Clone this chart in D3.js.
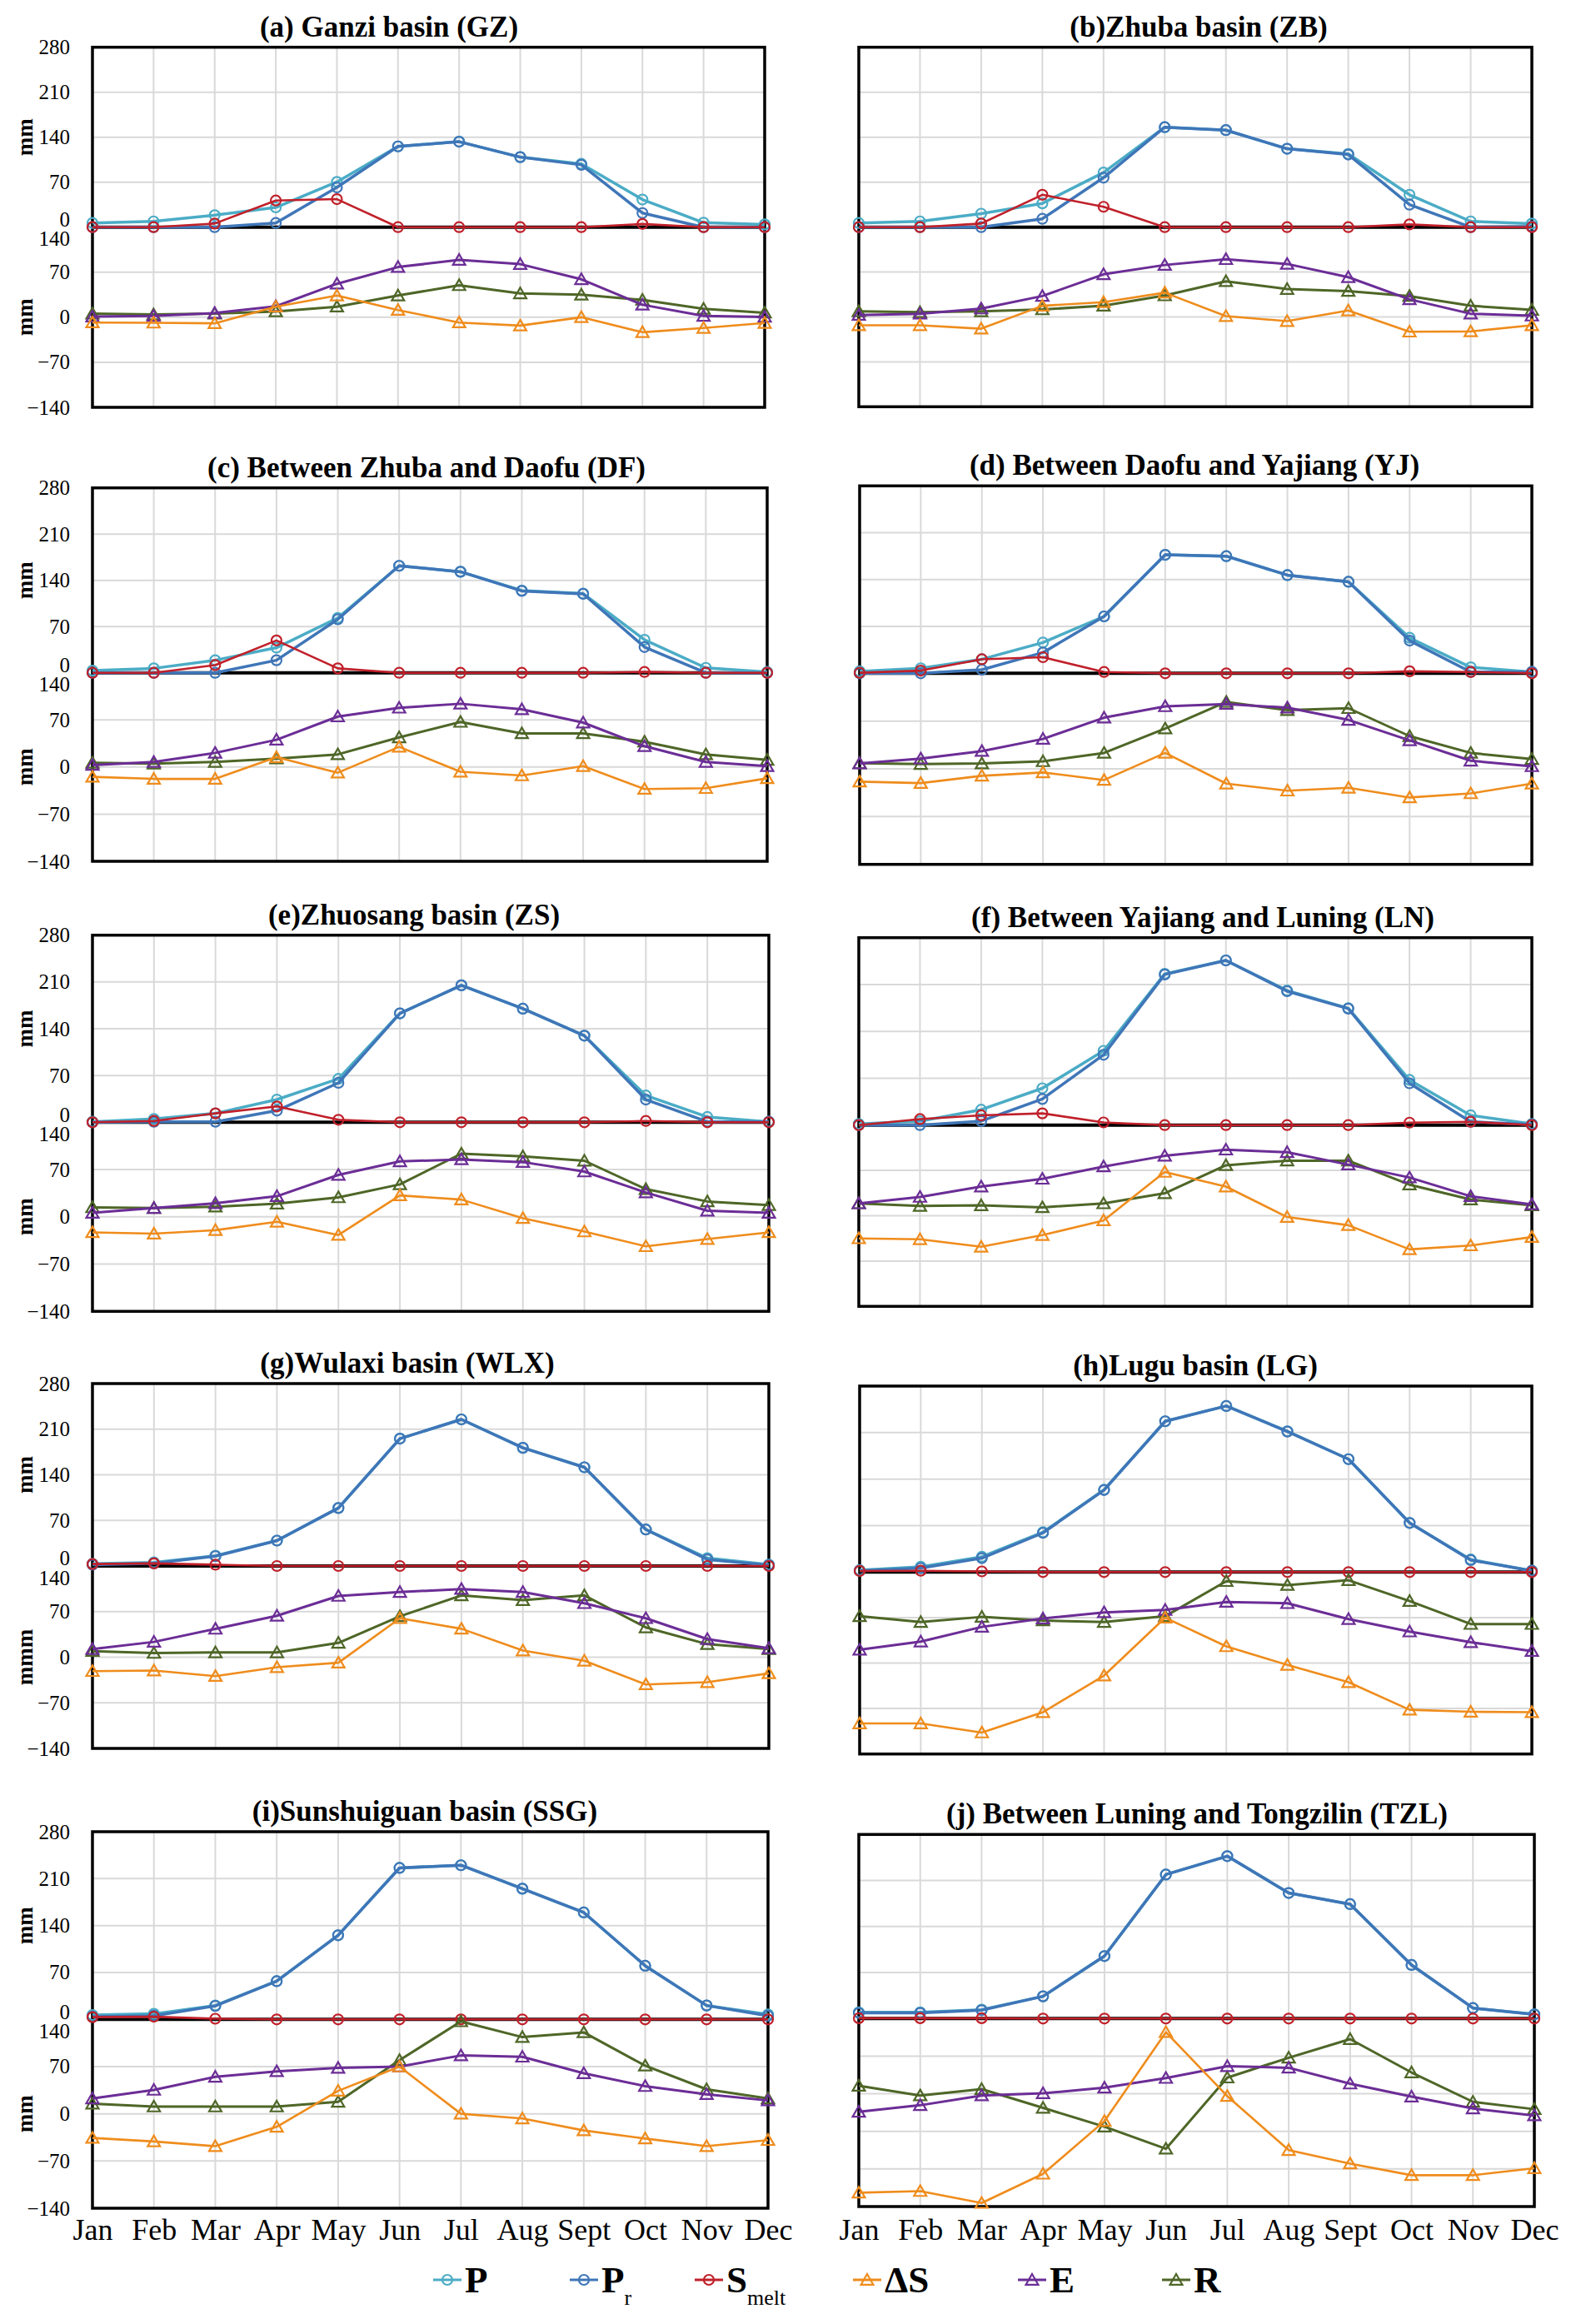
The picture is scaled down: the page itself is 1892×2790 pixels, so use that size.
<!DOCTYPE html>
<html><head><meta charset="utf-8">
<script src="https://cdn.jsdelivr.net/npm/d3@7"></script>
<style>
body{margin:0;background:#fff}
svg{display:block}
text{font-family:"Liberation Serif","Times New Roman",serif;fill:#000}
</style>
</head><body>
<svg id="chart" width="1892" height="2790"></svg>
<script>
// ---------- DATA ----------
const months = ["Jan","Feb","Mar","Apr","May","Jun","Jul","Aug","Sept","Oct","Nov","Dec"];
const upperTicks = [0,70,140,210,280];
const lowerTicks = [-140,-70,0,70,140];
const lowerTicksTZL = [-112,-56,0,56,112,168];
const titles = ["(a) Ganzi basin (GZ)","(b)Zhuba basin (ZB)","(c) Between Zhuba and Daofu (DF)","(d) Between Daofu and Yajiang (YJ)",
  "(e)Zhuosang basin (ZS)","(f) Between Yajiang and Luning (LN)","(g)Wulaxi basin (WLX)","(h)Lugu basin (LG)",
  "(i)Sunshuiguan basin (SSG)","(j) Between Luning and Tongzilin (TZL)"];
const upperYLabels = ["mm","","mm","","mm","","mm","","mm",""];
const lowerYLabels = ["mm","","mm","","mm","","mmm","","mm",""];

// (a) GZ
const gzP  = [6.5, 9, 18.6, 30.7, 70.4, 125.7, 133, 109, 98.5, 43, 7, 4.3];
const gzPr = [0, 0, 0, 6.5, 61.8, 125.7, 133, 109, 97, 22, 0, 0];
const gzSm = [0, 0, 5.6, 41.5, 43.6, 0, 0, 0, 0, 5, 0, 0];
const gzDS = [-8.2, -8.6, -9.5, 16.4, 33.7, 11.2, -8.2, -13, 0, -23.3, -16.8, -9];
const gzE  = [1, 2, 6.5, 17, 52, 78, 89, 82.5, 59, 19.4, 2, 0.5];
const gzR  = [5.6, 4.3, 5.6, 9, 16.4, 33.7, 49.7, 37, 35, 27, 13, 7];
// (b) ZB
const zbP  = [6.5, 9, 21, 37, 85, 155.6, 151, 122, 114, 50.4, 9, 5.6];
const zbPr = [0, 0, 0, 13, 77, 155.6, 151, 122, 113, 35, 0, 1];
const zbSm = [0, 0, 5.6, 50.4, 31.7, 0, 0, 0, 0, 4.3, 0, 0];
const zbDS = [-13, -13, -18.3, 17.4, 23, 37.8, 1.3, -6.5, 10, -23, -22.6, -13];
const zbE  = [3, 5, 13, 32.6, 66.5, 81, 90, 82.6, 62, 27.4, 5, 2];
const zbR  = [8.7, 7.4, 8.7, 11.7, 17.4, 33.5, 55.6, 43.5, 40.4, 32.6, 17.4, 11];
// (c) DF
const dfP  = [3.3, 6.7, 19, 38, 83, 162, 153, 124.5, 120, 50, 7.5, 1.3];
const dfPr = [0, 0, 0, 19, 81, 162, 153, 124, 119.5, 39, 0, 0];
const dfSm = [0, 0, 11.7, 49, 6.7, 0, 0, 0, 0, 1.3, 0, 0];
const dfDS = [-14.6, -17.6, -17.6, 14.6, -8.4, 30, -7, -12.5, 1.3, -32.6, -31.4, -16.7];
const dfE  = [3, 7.5, 21, 40.5, 75, 88, 94, 85.7, 66, 31, 7.5, 1.3];
const dfR  = [6.3, 5, 7.5, 12.5, 18.8, 44, 67, 50, 50, 37.6, 18.8, 10.5];
// (d) YJ
const yjP  = [2.9, 7.5, 21, 46, 85, 177, 175, 146.7, 136.7, 53, 9, 2];
const yjPr = [0, 0, 5.4, 31, 85, 177, 175, 146.7, 136.7, 48.8, 2, 2];
const yjSm = [0.8, 4, 21, 24, 2, 0, 0, 0, 0, 3, 2, 0];
const yjDS = [-18.8, -20.9, -10.2, -5.3, -16.4, 23.3, -21.7, -32, -27.8, -42, -36, -21.7];
const yjE  = [7.8, 15, 26, 43.8, 75, 91.6, 95, 89.6, 71.6, 41.7, 11.9, 3.7];
const yjR  = [8.2, 7, 7.8, 11, 23.3, 59, 98, 86, 88.8, 47.9, 23.3, 14.3];
// (e) ZS
const zsP  = [0.8, 5, 13.3, 34, 65, 163, 205, 170, 129.6, 40, 7.9, 0.8];
const zsPr = [0, 0.8, 0.8, 17.4, 59, 163, 205, 170, 129.6, 34, 0.8, 0.8];
const zsSm = [0, 2, 13.3, 23.7, 3.7, 0, 0, 0, 0, 2, 0, 0];
const zsDS = [-23, -25, -19.8, -7.4, -27, 31.7, 25.5, -2, -21.8, -43.7, -33, -23];
const zsE  = [5.8, 13, 20, 30.5, 62, 82, 85, 81, 67, 36, 9, 5.8];
const zsR  = [14, 13, 15, 19.4, 28.8, 48, 93.5, 89.4, 83, 41, 22.7, 17.3];
// (f) LN
const lnP  = [1.7, 5.8, 23, 55, 111, 226, 246, 201, 174.6, 67.5, 14.6, 1.7];
const lnPr = [0, 0, 6, 39, 105, 225, 246, 200, 174, 62.5, 5, 0.8];
const lnSm = [0, 9, 14.6, 17.5, 4, 0, 0, 0, 0, 3.7, 5, 0];
const lnDS = [-35, -36.4, -48, -30, -7.3, 67.6, 45, -2, -14.6, -52, -46, -33];
const lnE  = [19, 29, 45, 57, 76, 92.5, 102, 98, 79, 59, 30, 17.5];
const lnR  = [19, 15, 16, 13, 19, 34.7, 78, 85, 85, 48, 25, 16];
// (g) WLX
const wlxP  = [3.4, 5.5, 15.8, 39, 89, 195.5, 225, 181.4, 151.5, 56, 12, 2.1];
const wlxPr = [2, 4.3, 15, 39, 89, 195.5, 225, 181.4, 151.5, 56, 10, 1.3];
const wlxSm = [3, 4, 2, 0, 0, 0, 0, 0, 0, 0, 0, 0];
const wlxDS = [-21.4, -20.5, -29, -15.4, -8.5, 59.8, 43.6, 10.2, -5.5, -41.8, -38.4, -24.8];
const wlxE  = [12.4, 23.5, 43.5, 63.6, 94, 100, 104.6, 100, 82.8, 59.8, 27.8, 13.7];
const wlxR  = [9.4, 6.4, 7.3, 7.3, 22, 62.8, 94.8, 87.5, 94.8, 45.7, 20, 12.4];
// (h) LG
const lgP  = [3, 8, 23, 60, 124, 227, 250, 212, 170, 74, 19, 2];
const lgPr = [2, 6, 21, 59, 123.5, 227, 250, 211.5, 170, 74, 18, 2];
const lgSm = [1.7, 2, 1, 0, 0, 0, 0, 0, 0, 0, 0, 0];
const lgDS = [-93, -93, -107, -75.7, -19.3, 69.8, 25.7, -3, -29.5, -72, -75, -75.7];
const lgE  = [20.5, 33, 55.6, 68.5, 78, 81.7, 94, 92, 67.6, 48.4, 32, 18.4];
const lgR  = [72, 63, 71, 65.5, 63, 72, 126, 120, 127.5, 95.4, 60, 60];
// (i) SSG
const ssgP  = [6.6, 8.3, 20.7, 57, 125.5, 226, 230, 195, 159.5, 80, 20.7, 7.5];
const ssgPr = [4, 5.4, 20, 57, 125.5, 226, 230, 195, 159.5, 80, 20.7, 5.4];
const ssgSm = [3.3, 4, 1, 0, 0, 0, 0, 0, 0, 0, 0, 0];
const ssgDS = [-35.8, -41, -48, -19.4, 34, 70, 0, -7, -24.7, -36.7, -48, -39];
const ssgE  = [22.7, 35.4, 54.8, 63, 68, 70, 86.5, 84.5, 60, 41, 29, 19.8];
const ssgR  = [15, 10.7, 10.7, 10.7, 17.7, 79.5, 137, 113.7, 120.7, 71.3, 36.3, 22.7];
// (j) TZL
const tzlP  = [9.5, 9.5, 13.5, 33.8, 95, 219, 247, 191, 174, 81.5, 16, 6.3];
const tzlPr = [8.5, 8.5, 12.7, 33.8, 95, 219, 247, 191, 174, 81.5, 16, 6.3];
const tzlSm = [0.5, 0.5, 0.5, 0, 0, 0, 0, 0, 0, 0, 0, 0];
const tzlDS = [-91.4, -89, -106.7, -63.3, 15.3, 147.7, 52.5, -28, -48, -65.3, -65.3, -55];
const tzlE  = [29, 38.9, 53.4, 56.7, 65, 79.4, 97, 94.7, 71, 51.7, 34, 23.6];
const tzlR  = [67.8, 53.4, 62.9, 35, 7, -26, 80, 109.6, 137.3, 87.7, 44, 33];

// ---------- STYLE / LAYOUT ----------
const seriesKeys = ["P","Pr","Sm","DS","E","R"];
const colors = {P:"#4bacc6", Pr:"#3f76b8", Sm:"#c0202a", DS:"#ef8c1c", E:"#6b2d96", R:"#4e6627"};
const widths = {P:3.5, Pr:3.5, Sm:2.6, DS:2.6, E:3, R:3};
const markerType = {P:"circle", Pr:"circle", Sm:"circle", DS:"tri", E:"tri", R:"tri"};

const boxes = [
  {x0:111, x1:918, top:56.7, mid:272.7, bot:489, tx:467},
  {x0:1031,x1:1839,top:56.7, mid:272.7, bot:488.3, tx:1439},
  {x0:111, x1:921, top:585.7, mid:807.7, bot:1034, tx:512},
  {x0:1032,x1:1839,top:583.3, mid:808.3, bot:1037.7, tx:1434},
  {x0:111, x1:923, top:1122.7, mid:1347.3, bot:1574.3, tx:497},
  {x0:1031,x1:1839,top:1125.7, mid:1350.7, bot:1568.3, tx:1444},
  {x0:111, x1:923, top:1661, mid:1880, bot:2099, tx:489},
  {x0:1032,x1:1839,top:1664, mid:1887.3, bot:2105.7, tx:1435},
  {x0:111, x1:922, top:2199, mid:2424.3, bot:2651, tx:510},
  {x0:1031,x1:1842,top:2202.3, mid:2423.3, bot:2649, tx:1437}
];

const panelData = [
  {P:gzP, Pr:gzPr, Sm:gzSm, DS:gzDS, E:gzE, R:gzR, low:lowerTicks},
  {P:zbP, Pr:zbPr, Sm:zbSm, DS:zbDS, E:zbE, R:zbR, low:lowerTicks},
  {P:dfP, Pr:dfPr, Sm:dfSm, DS:dfDS, E:dfE, R:dfR, low:lowerTicks},
  {P:yjP, Pr:yjPr, Sm:yjSm, DS:yjDS, E:yjE, R:yjR, low:lowerTicks},
  {P:zsP, Pr:zsPr, Sm:zsSm, DS:zsDS, E:zsE, R:zsR, low:lowerTicks},
  {P:lnP, Pr:lnPr, Sm:lnSm, DS:lnDS, E:lnE, R:lnR, low:lowerTicks},
  {P:wlxP, Pr:wlxPr, Sm:wlxSm, DS:wlxDS, E:wlxE, R:wlxR, low:lowerTicks},
  {P:lgP, Pr:lgPr, Sm:lgSm, DS:lgDS, E:lgE, R:lgR, low:lowerTicks},
  {P:ssgP, Pr:ssgPr, Sm:ssgSm, DS:ssgDS, E:ssgE, R:ssgR, low:lowerTicks},
  {P:tzlP, Pr:tzlPr, Sm:tzlSm, DS:tzlDS, E:tzlE, R:tzlR, low:lowerTicksTZL}
];

const svg = d3.select("#chart");
const triangle = d3.symbol().type(d3.symbolTriangle).size(95);

function drawMarker(g, type, x, y, color) {
  if (type === "circle") {
    g.append("circle").attr("cx", x).attr("cy", y).attr("r", 6)
      .attr("fill", "none").attr("stroke", color).attr("stroke-width", 2.2);
  } else {
    g.append("path").attr("d", triangle).attr("transform", `translate(${x},${y + 1.5})`)
      .attr("fill", "none").attr("stroke", color).attr("stroke-width", 2.2);
  }
}

panelData.forEach((pd, i) => {
  const b = boxes[i];
  const isLeft = i % 2 === 0;
  const isBottom = i >= 8;
  const g = svg.append("g");
  const x = d3.scalePoint().domain(months).range([b.x0, b.x1]).padding(0);
  const yU = d3.scaleLinear().domain([0, 280]).range([b.mid, b.top]);
  const yL = d3.scaleLinear().domain(d3.extent(pd.low)).range([b.bot, b.mid]);

  // gridlines
  const grid = g.append("g").attr("stroke", "#d9d9d9").attr("stroke-width", 2);
  months.forEach(m => grid.append("line").attr("x1", x(m)).attr("x2", x(m)).attr("y1", b.top).attr("y2", b.bot));
  upperTicks.forEach(v => grid.append("line").attr("x1", b.x0).attr("x2", b.x1).attr("y1", yU(v)).attr("y2", yU(v)));
  pd.low.forEach(v => grid.append("line").attr("x1", b.x0).attr("x2", b.x1).attr("y1", yL(v)).attr("y2", yL(v)));

  // frame + divider
  g.append("rect").attr("x", b.x0).attr("y", b.top).attr("width", b.x1 - b.x0).attr("height", b.bot - b.top)
    .attr("fill", "none").attr("stroke", "#000").attr("stroke-width", 3.5);
  g.append("line").attr("x1", b.x0).attr("x2", b.x1).attr("y1", yU(0)).attr("y2", yU(0))
    .attr("stroke", "#000").attr("stroke-width", 4);

  // title
  g.append("text").attr("x", b.tx).attr("y", b.top - 13).attr("text-anchor", "middle")
    .attr("font-size", 35).attr("font-weight", "bold").text(titles[i]);

  // y axis labels (left column only)
  if (isLeft) {
    const axU = d3.axisLeft(yU).tickValues(upperTicks).tickSize(0).tickPadding(27).tickFormat(d3.format("d"));
    const gu = g.append("g").attr("transform", `translate(${b.x0},0)`).call(axU);
    gu.select(".domain").remove();
    gu.selectAll("text").attr("font-size", 25).attr("font-family", "Liberation Serif")
      .attr("dy", d => d === 0 ? "-0.05em" : "0.32em");
    const axL = d3.axisLeft(yL).tickValues(pd.low).tickSize(0).tickPadding(27).tickFormat(d3.format("d"));
    const gl = g.append("g").attr("transform", `translate(${b.x0},0)`).call(axL);
    gl.select(".domain").remove();
    gl.selectAll("text").attr("font-size", 25).attr("font-family", "Liberation Serif")
      .attr("dy", d => d === 140 ? "0.88em" : "0.32em");
    g.selectAll(".tick text").attr("fill", "#000");
    g.append("text").attr("transform", `translate(39,${(b.top + b.mid) / 2}) rotate(-90)`)
      .attr("text-anchor", "middle").attr("font-size", 27).attr("font-weight", "bold").text(upperYLabels[i]);
    g.append("text").attr("transform", `translate(39,${(b.mid + b.bot) / 2}) rotate(-90)`)
      .attr("text-anchor", "middle").attr("font-size", 27).attr("font-weight", "bold").text(lowerYLabels[i]);
  }

  // x labels for bottom row
  if (isBottom) {
    const axX = d3.axisBottom(x).tickSize(0).tickPadding(0);
    const gx = g.append("g").attr("transform", `translate(0,${2689})`).call(axX);
    gx.select(".domain").remove();
    gx.selectAll("text").attr("font-size", 36).attr("font-family", "Liberation Serif").attr("dy", 0).attr("y", 0).attr("fill", "#000");
  }

  // series
  const order = ["P","Pr","Sm","R","E","DS"];
  order.forEach(k => {
    const y = (k === "P" || k === "Pr" || k === "Sm") ? yU : yL;
    const line = d3.line().x((d, j) => x(months[j])).y(d => y(d));
    const sg = g.append("g");
    sg.append("path").datum(pd[k]).attr("d", line).attr("fill", "none")
      .attr("stroke", colors[k]).attr("stroke-width", widths[k]).attr("stroke-linejoin", "round");
    pd[k].forEach((v, j) => drawMarker(sg, markerType[k], x(months[j]), y(v), colors[k]));
  });
});

// ---------- LEGEND ----------
const legendItems = [
  {k:"P", main:"P", sub:"", mx:537},
  {k:"Pr", main:"P", sub:"r", mx:701},
  {k:"Sm", main:"S", sub:"melt", mx:851},
  {k:"DS", main:"\u0394S", sub:"", mx:1041},
  {k:"E", main:"E", sub:"", mx:1239},
  {k:"R", main:"R", sub:"", mx:1412}
];
const lg = svg.append("g");
legendItems.forEach(it => {
  const c = colors[it.k];
  lg.append("line").attr("x1", it.mx - 17).attr("x2", it.mx + 17).attr("y1", 2737).attr("y2", 2737)
    .attr("stroke", c).attr("stroke-width", 3);
  drawMarker(lg, markerType[it.k], it.mx, 2737, c);
  const t = lg.append("text").attr("x", it.mx + 21).attr("y", 2752).attr("font-size", 45).attr("font-weight", "bold");
  t.append("tspan").text(it.main);
  if (it.sub) t.append("tspan").attr("dy", 15).attr("font-size", 26).attr("font-weight", "normal").text(it.sub);
});
</script>
</body></html>
